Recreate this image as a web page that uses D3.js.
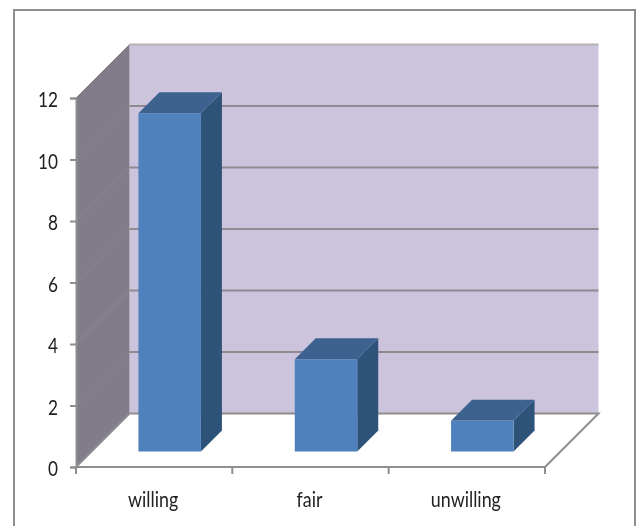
<!DOCTYPE html>
<html>
<head>
<meta charset="utf-8">
<script src="https://cdn.jsdelivr.net/npm/d3@7"></script>
<style>
html, body { margin: 0; padding: 0; background: white; }
svg { display: block; }
</style>
</head>
<body>
<div id="d3_cont"></div>
<script>
// chart data
var categories = ["willing", "fair", "unwilling"];
var values = [11, 3, 1];
var yTicks = [0, 2, 4, 6, 8, 10, 12];

var width = 640, height = 526;
var x0 = 76, x1 = 545, y0 = 467, y1 = 98;
var depth = 53.5;   // 3d offset of the back wall

var x = d3.scaleBand().domain(categories).range([x0, x1]).paddingInner(0).paddingOuter(0);
var y = d3.scaleLinear().domain([0, 12]).range([y0, y1]);

var svg = d3.select("#d3_cont")
   .append("svg")
   .attr("width", width)
   .attr("height", height);

var defs = svg.append("defs");
defs.append("filter").attr("id", "soft")
   .attr("x", "-5%").attr("y", "-5%").attr("width", "110%").attr("height", "110%")
   .append("feGaussianBlur").attr("stdDeviation", 0.45);

var g = svg.append("g").attr("filter", "url(#soft)");

// outer frame, runs off the bottom of the picture
g.append("rect")
   .attr("x", 14).attr("y", 10)
   .attr("width", 621).attr("height", 530)
   .attr("fill", "white")
   .attr("stroke", "#8e8e8e")
   .attr("stroke-width", 2);

var pts = function (list) {
   return list.map(function (p) { return p[0] + "," + p[1]; }).join(" ");
};

// back wall
g.append("polygon")
   .attr("points", pts([[x0 + depth, y1 - depth], [x1 + depth, y1 - depth], [x1 + depth, y0 - depth], [x0 + depth, y0 - depth]]))
   .attr("fill", "#ccc3dd");

// side wall
g.append("polygon")
   .attr("points", pts([[x0, y1], [x0 + depth, y1 - depth], [x0 + depth, y0 - depth], [x0, y0]]))
   .attr("fill", "#827b8a");

// floor edges
g.append("polyline")
   .attr("points", pts([[x0, y0], [x0 + depth, y0 - depth], [x1 + depth, y0 - depth], [x1, y0]]))
   .attr("fill", "none")
   .attr("stroke", "#8e8e8e")
   .attr("stroke-width", 2);

// gridlines on the walls
yTicks.slice(1).forEach(function (t) {
   g.append("line")
      .attr("x1", x0).attr("y1", y(t))
      .attr("x2", x0 + depth).attr("y2", y(t) - depth)
      .attr("stroke", "#8f8a84").attr("stroke-width", 1);
   g.append("line")
      .attr("x1", x0 + depth).attr("y1", y(t) - depth)
      .attr("x2", x1 + depth).attr("y2", y(t) - depth)
      .attr("stroke", t == 12 ? "#b5b1b5" : "#8e8a90")
      .attr("stroke-width", 2);
});

// bars
var barW = 62.5, front = 15.5, back = 36.5;
var bars = g.selectAll(".bar")
   .data(categories)
   .enter()
   .append("g")
   .attr("class", "bar");

var left = function (d) { return x(d) + x.bandwidth() / 2 - barW / 2 + front; };
var valueOf = function (d) { return values[categories.indexOf(d)]; };
var off = back - front;

bars.append("polygon")
   .attr("fill", "#2f5279")
   .attr("points", function (d) {
      var l = left(d) + barW, t = y(valueOf(d)) - front, b = y(0) - front;
      return pts([[l, t], [l + off, t - off], [l + off, b - off], [l, b]]);
   });
bars.append("polygon")
   .attr("fill", "#3c6290")
   .attr("points", function (d) {
      var l = left(d), t = y(valueOf(d)) - front;
      return pts([[l, t], [l + off, t - off], [l + barW + off, t - off], [l + barW, t]]);
   });
bars.append("rect")
   .attr("fill", "#4f81bd")
   .attr("x", left)
   .attr("y", function (d) { return y(valueOf(d)) - front; })
   .attr("width", barW)
   .attr("height", function (d) { return y(0) - y(valueOf(d)); });

// y axis
var yAxis = g.append("g")
   .attr("transform", "translate(" + x0 + ",0)")
   .call(d3.axisLeft(y).tickValues(yTicks).tickSize(6).tickFormat(d3.format("d")));
yAxis.select(".domain").attr("stroke", "#8e8e8e").attr("stroke-width", 2);
yAxis.selectAll(".tick line").attr("stroke", "#8e8e8e").attr("stroke-width", 2);

// x axis, ticks sit between the categories
var xAxis = g.append("g")
   .attr("transform", "translate(0," + y0 + ")")
   .call(d3.axisBottom(x).tickSize(0));
xAxis.select(".domain").remove();
g.append("line")
   .attr("x1", x0).attr("x2", x1).attr("y1", y0).attr("y2", y0)
   .attr("stroke", "#8e8e8e").attr("stroke-width", 2);
g.selectAll(".xtick")
   .data(x.domain().map(function (d) { return x(d); }).concat([x1]))
   .enter()
   .append("line")
   .attr("class", "xtick")
   .attr("x1", function (d) { return d; })
   .attr("x2", function (d) { return d; })
   .attr("y1", y0).attr("y2", y0 + 7)
   .attr("stroke", "#8e8e8e").attr("stroke-width", 2);

// the original text is squeezed sideways
var squeeze = 0.82;
g.selectAll(".tick text")
   .attr("font-family", "Lato")
   .attr("font-size", 21)
   .attr("fill", "#222");
yAxis.selectAll(".tick text")
   .attr("transform", "scale(" + squeeze + ",1)")
   .attr("x", -18 / squeeze)
   .attr("y", 8.5)
   .attr("dy", 0);
xAxis.selectAll(".tick text")
   .attr("transform", "translate(-1,0) scale(0.85,1)")
   .attr("y", 40)
   .attr("dy", 0);
</script>
</body>
</html>
